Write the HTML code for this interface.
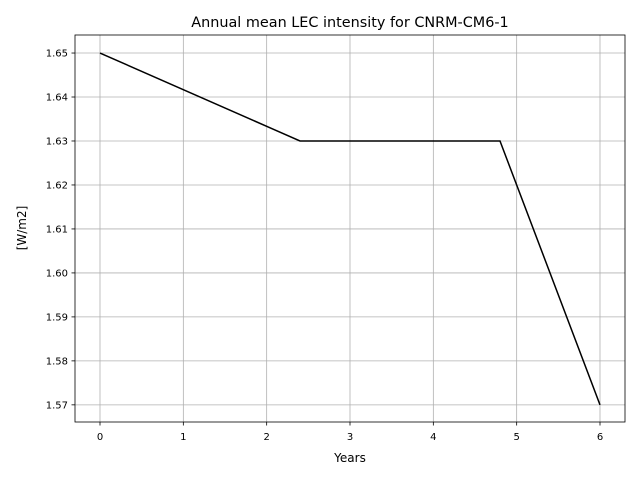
<!DOCTYPE html>
<html><head><meta charset="utf-8"><style>
body{margin:0;background:#fff;}
svg text{font-family:"DejaVu Sans","Liberation Sans",sans-serif;}
</style></head><body>
<svg id="chart" width="640" height="480" viewBox="0 0 640 480">
<rect width="640" height="480" fill="#fff"/>
<text x="350" y="27" font-size="14.4" text-anchor="middle">Annual mean LEC intensity for CNRM-CM6-1</text>
<g id="grid"></g><g id="ticks"></g>
<polyline id="line" fill="none" stroke="#000" stroke-width="1.5"/>
<rect x="75" y="35" width="550" height="387" fill="none" stroke="#000" stroke-width="0.8"/>
<text x="350" y="462" font-size="12" text-anchor="middle">Years</text>
<text transform="translate(26,228) rotate(-90)" font-size="12" text-anchor="middle">[W/m2]</text>
</svg>
<script>
const years=[0,2.4,4.8,6];
const values=[1.65,1.63,1.63,1.57];
const xTicks=[0,1,2,3,4,5,6];
const yTicks=[1.57,1.58,1.59,1.60,1.61,1.62,1.63,1.64,1.65];
const L=75,R=625,T=35,B=422,xmin=-0.3,xmax=6.3,ymin=1.5661,ymax=1.6541;
const sx=v=>L+(v-xmin)/(xmax-xmin)*(R-L);
const sy=v=>B-(v-ymin)/(ymax-ymin)*(B-T);
const NS="http://www.w3.org/2000/svg";
const grid=document.getElementById('grid'),tk=document.getElementById('ticks');
function mk(tag,a,p){const e=document.createElementNS(NS,tag);for(const k in a)e.setAttribute(k,a[k]);p.appendChild(e);return e;}
xTicks.forEach(t=>{const x=sx(t);
const g=mk('line',{x1:x,x2:x,y1:T,y2:B,stroke:'#b0b0b0','stroke-width':0.8},grid);


mk('line',{x1:x,x2:x,y1:B,y2:B+3.5,stroke:'#000','stroke-width':0.8},tk);
const tx=mk('text',{x:x,y:B+18,'font-size':10,'text-anchor':'middle'},tk);tx.textContent=t;

});
yTicks.forEach(t=>{const y=sy(t);
const g=mk('line',{x1:L,x2:R,y1:y,y2:y,stroke:'#b0b0b0','stroke-width':0.8},grid);


mk('line',{x1:L-3.5,x2:L,y1:y,y2:y,stroke:'#000','stroke-width':0.8},tk);
const tx=mk('text',{x:L-7,y:y+3.5,'font-size':10,'text-anchor':'end'},tk);tx.textContent=t.toFixed(2);

});
document.getElementById('line').setAttribute('points',years.map((x,i)=>sx(x)+','+sy(values[i])).join(' '));
</script>
</body></html>
